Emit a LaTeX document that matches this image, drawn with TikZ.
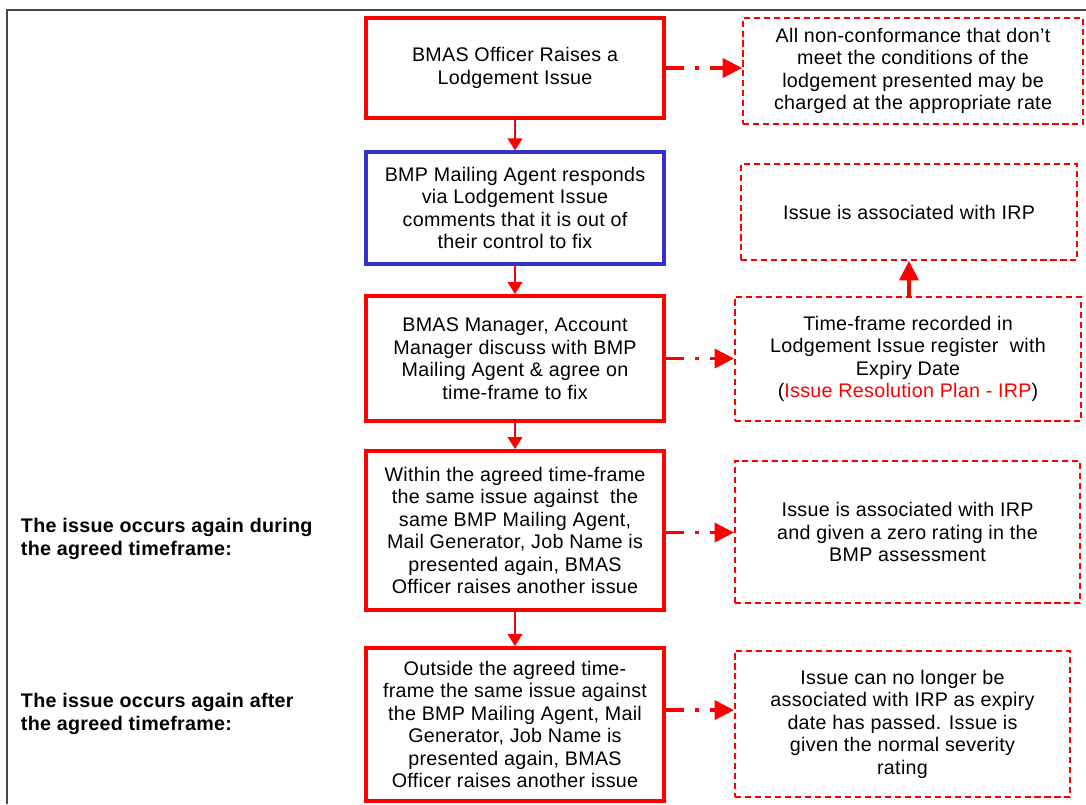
\documentclass[tikz,border=0pt]{standalone}
\usepackage{fontspec}
\setmainfont[LetterSpace=1.5]{Liberation Sans}
\usepackage{xcolor}
\usepackage{tikz}
\usetikzlibrary{arrows.meta,positioning,calc}

\definecolor{boxred}{RGB}{255,0,0}
\definecolor{boxblue}{RGB}{51,51,204}
\definecolor{framegray}{RGB}{70,70,70}

\tikzset{
    mainbox/.style={draw=boxred, line width=2.8pt, minimum width=7.45cm, align=center, inner sep=2pt,
        font=\fontsize{14}{16}\selectfont},
    notebox/.style={draw=boxred, line width=1.1pt, dash pattern=on 4.3pt off 2.8pt, minimum width=8.5cm,
        align=center, inner sep=2pt, font=\fontsize{14}{16}\selectfont},
    flow/.style={draw=boxred, line width=1.1pt, -{Triangle[length=8.5pt, width=10.5pt]}},
    dashflow/.style={draw=boxred, line width=2.8pt, dash pattern=on 12.8pt off 7.8pt on 2.8pt off 7.8pt,
        -{Triangle[length=14pt, width=13.5pt]}},
    sidelabel/.style={anchor=west, align=left, font=\fontsize{14}{16}\selectfont\bfseries}
}

\begin{document}
\begin{tikzpicture}[x=0.025cm, y=-0.025cm]
    \useasboundingbox (0,0) rectangle (1086,804);

    % Frame
    \draw[framegray, line width=1.5pt] (7,804) -- (7,10) -- (1086,10);

    % Main steps
    \node[mainbox, minimum height=2.5cm] (b1) at (515,68) {BMAS Officer Raises a\\Lodgement Issue};
    \node[mainbox, draw=boxblue, line width=2.3pt, minimum height=2.8cm] (b2) at (515,208)
        {BMP Mailing Agent responds\\via Lodgement Issue\\comments that it is out of\\their control to fix};
    \node[mainbox, minimum height=3.125cm] (b3) at (515,358.5)
        {BMAS Manager, Account\\Manager discuss with BMP\\Mailing Agent \& agree on\\time-frame to fix};
    \node[mainbox, minimum height=3.975cm] (b4) at (515,530.5)
        {Within the agreed time-frame\\the same issue against\ \ the\\same BMP Mailing Agent,\\Mail Generator, Job Name is\\presented again, BMAS\\Officer raises another issue};
    \node[mainbox, minimum height=3.825cm] (b5) at (515,724.5)
        {Outside the agreed time-\\frame the same issue against\\the BMP Mailing Agent, Mail\\Generator, Job Name is\\presented again, BMAS\\Officer raises another issue};

    % Notes
    \node[notebox, minimum height=2.65cm] (na) at (913,71)
        {All non-conformance that don’t\\meet the conditions of the\\lodgement presented may be\\charged at the appropriate rate};
    \node[notebox, minimum width=8.4cm, minimum height=2.4cm] (nb) at (909,212) {Issue is associated with IRP};
    \node[notebox, minimum width=8.65cm, minimum height=3.1cm] (nc) at (908,359)
        {Time-frame recorded in\\Lodgement Issue register\ \ with\\Expiry Date\\(\textcolor{boxred}{Issue Resolution Plan - IRP})};
    \node[notebox, minimum width=8.625cm, minimum height=3.55cm] (nd) at (907.5,532)
        {Issue is associated with IRP\\and given a zero rating in the\\BMP assessment};
    \node[notebox, minimum width=8.375cm, minimum height=3.65cm] (ne) at (902.5,724)
        {Issue can no longer be\\associated with IRP as expiry\\date has passed. Issue is\\given the normal severity\\rating};

    % Side labels
    \node[sidelabel] (la) at (16,539) {The issue occurs again during\\the agreed timeframe:};
    \node[sidelabel] (lb) at (16,714) {The issue occurs again after\\the agreed timeframe:};

    % Flow
    \draw[flow] (b1) -- (b2);
    \draw[flow] (b2) -- (b3);
    \draw[flow] (b3) -- (b4);
    \draw[flow] (b4) -- (b5);

    % Side arrows
    \draw[dashflow] (b1.east) -- (b1.east -| na.west);
    \draw[dashflow] (b3.east) -- (b3.east -| nc.west);
    \draw[dashflow] ([yshift=-0.05cm]b4.east) -- ([yshift=-0.05cm]b4.east -| nd.west);
    \draw[dashflow] ([yshift=0.36cm]b5.east) -- ([yshift=0.36cm]b5.east -| ne.west);
    \draw[dashflow] (nc.north -| nb.south) -- (nb.south);
\end{tikzpicture}
\end{document}
